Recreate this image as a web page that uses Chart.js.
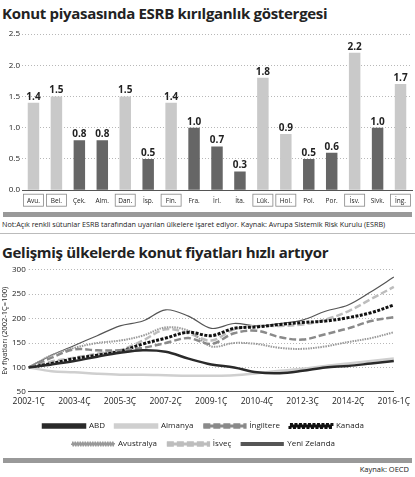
<!DOCTYPE html>
<html><head><meta charset="utf-8">
<script src="https://cdn.jsdelivr.net/npm/chart.js@4"></script>
<style>
body{margin:0;width:415px;height:477px;background:#fff;font-family:"Open Sans",sans-serif;color:#222;overflow:hidden}
.t{font-weight:bold;font-size:15px;letter-spacing:-0.3px;padding-left:2px;height:26px;line-height:26px}
.bar{height:5px;background:#999;margin:0 3px}
.note{font-size:7.2px;padding-left:2px;height:14px;line-height:14px;white-space:nowrap}
</style></head><body>
<div class="t">Konut piyasasında ESRB kırılganlık göstergesi</div>
<div style="height:186px"><canvas id="c1"></canvas></div>
<div class="bar"></div>
<div class="note">Not:Açık renkli sütunlar ESRB tarafından uyarılan ülkelere işaret ediyor. Kaynak: Avrupa Sistemik Risk Kurulu (ESRB)</div>
<div style="height:8px;border-top:1px solid #bbb;margin-top:2px"></div>
<div class="t" style="height:20px;line-height:20px">Gelişmiş ülkelerde konut fiyatları hızlı artıyor</div>
<div style="height:196px"><canvas id="c2"></canvas></div>
<div class="bar"></div>
<div style="font-size:7.5px;text-align:right;padding-right:6px;line-height:12px">Kaynak: OECD</div>
<script>
const countries=["Avu.","Bel.","Çek.","Alm.","Dan.","İsp.","Fin.","Fra.","İrl.","İta.","Lük.","Hol.","Pol.","Por.","İsv.","Slvk.","İng."];
const esrb=[1.4,1.5,0.8,0.8,1.5,0.5,1.4,1.0,0.7,0.3,1.8,0.9,0.5,0.6,2.2,1.0,1.7];
const warned=[1,1,0,0,1,0,1,0,0,0,1,1,0,0,1,0,1];
const quarters=["2002-1Ç","","2003-4Ç","","2005-3Ç","","2007-2Ç","","2009-1Ç","","2010-4Ç","","2012-3Ç","","2014-2Ç","","2016-1Ç"];
const abd=[100,106,113,122,130,135,132,118,106,100,90,88,93,100,103,108,113];
const almanya=[100,92,90,87,85,85,84,83,83,84,88,93,97,103,108,113,118];
const ingiltere=[100,120,137,135,135,140,150,160,148,170,175,162,157,168,180,195,203];
const kanada=[100,108,118,125,133,148,160,172,165,180,183,188,192,195,202,212,228];
const avustralya=[100,125,140,150,155,165,182,175,143,150,148,140,138,143,152,160,172];
const isvec=[100,112,120,128,135,155,178,170,155,178,185,185,188,198,215,240,265];
const yeniZelanda=[100,125,145,165,185,195,218,205,180,190,185,190,197,215,228,255,285];

Chart.defaults.font.family='"Open Sans",sans-serif';
Chart.defaults.color='#222';
Chart.defaults.animation=false;

const boxPlugin={id:'box',afterDraw(ch){const x=ch.scales.x,ctx=ch.ctx;ctx.save();ctx.strokeStyle='#888';ctx.lineWidth=0.8;
 countries.forEach((c,i)=>{if(!warned[i])return;const px=x.getPixelForValue(i);ctx.strokeRect(px-10,x.top+4,20,12);});ctx.restore();}};
new Chart(document.getElementById('c1'),{type:'bar',
 data:{labels:countries,datasets:[{data:esrb,backgroundColor:warned.map(w=>w?'#c9c9c9':'#666'),barPercentage:0.5,categoryPercentage:1}]},
 options:{responsive:true,maintainAspectRatio:false,layout:{padding:{top:8,right:3}},
  plugins:{legend:{display:false},tooltip:{enabled:false}},
  scales:{x:{grid:{display:false,drawTicks:false},border:{color:'#555'},ticks:{font:{size:6.5},padding:7,maxRotation:0,autoSkip:false}},
   y:{min:0,max:2.5,ticks:{stepSize:0.5,font:{size:8},padding:2,callback:v=>v.toFixed(1)},grid:{color:'#999',lineWidth:0.7,tickLength:0},border:{display:false,dash:[1,2]},afterFit(s){s.width=22}}}},
 plugins:[boxPlugin,{id:'lbl',afterDatasetsDraw(ch){const ctx=ch.ctx,m=ch.getDatasetMeta(0);ctx.save();ctx.font='bold 10px "Open Sans"';ctx.fillStyle='#222';ctx.textAlign='center';ctx.textBaseline='bottom';
  m.data.forEach((b,i)=>ctx.fillText(esrb[i].toFixed(1),b.x,b.y-1));ctx.restore();}}]
});
const ds=(label,data,color,w,dash)=>({label,data,borderColor:color,backgroundColor:color,borderWidth:w,borderDash:dash,pointRadius:0,tension:0.35,fill:false});
new Chart(document.getElementById('c2'),{type:'line',
 data:{labels:quarters,datasets:[
  ds('ABD',abd,'#2a2a2a',2.5,[]),
  ds('Almanya',almanya,'#cfcfcf',2.5,[]),
  ds('İngiltere',ingiltere,'#8a8a8a',2.5,[7,3]),
  ds('Kanada',kanada,'#111',3,[3,1.5]),
  ds('Avustralya',avustralya,'#999',2,[1.5,1]),
  ds('İsveç',isvec,'#bdbdbd',2.5,[7,3]),
  ds('Yeni Zelanda',yeniZelanda,'#555',1.2,[])]},
 options:{responsive:true,maintainAspectRatio:false,layout:{padding:{right:8,top:4}},
  plugins:{tooltip:{enabled:false},legend:{position:'bottom',labels:{boxWidth:42,boxHeight:3,font:{size:8},padding:10}}},
  scales:{x:{grid:{display:false,drawTicks:false},border:{color:'#555'},ticks:{font:{size:8.5},maxRotation:0,autoSkip:false,padding:5}},
   y:{min:50,max:300,ticks:{stepSize:50,font:{size:8},padding:3},grid:{color:'#999',lineWidth:0.7,tickLength:0},border:{display:false,dash:[1,2]},
    title:{display:true,text:'Ev fiyatları (2002-1Ç=100)',font:{size:7.5},padding:0}}}}
});
</script></body></html>
